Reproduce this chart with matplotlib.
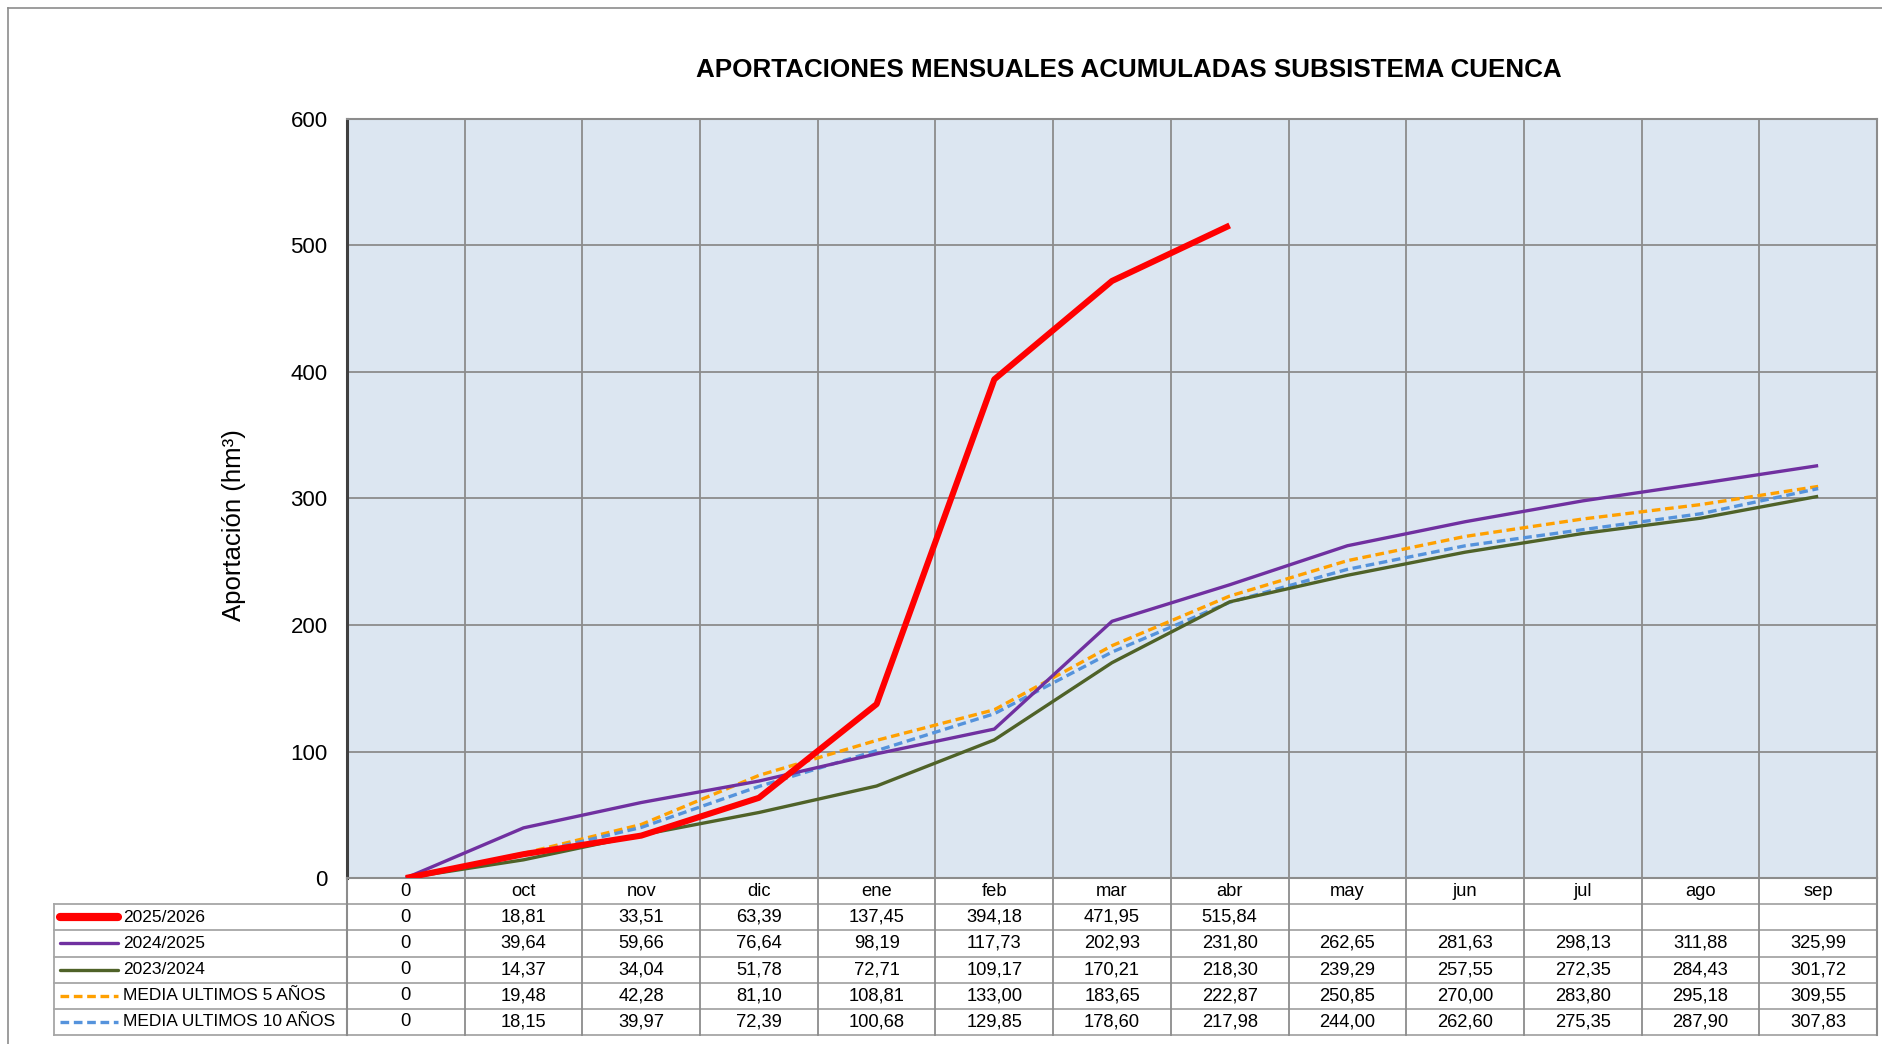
import matplotlib
matplotlib.use('Agg')
import matplotlib.pyplot as plt
import numpy as np
from matplotlib.lines import Line2D

# ---------------- data ----------------
months = ['0', 'oct', 'nov', 'dic', 'ene', 'feb', 'mar', 'abr',
          'may', 'jun', 'jul', 'ago', 'sep']
s_2025_2026 = [0, 18.81, 33.51, 63.39, 137.45, 394.18, 471.95, 515.84,
               np.nan, np.nan, np.nan, np.nan, np.nan]
s_2024_2025 = [0, 39.64, 59.66, 76.64, 98.19, 117.73, 202.93, 231.80,
               262.65, 281.63, 298.13, 311.88, 325.99]
s_2023_2024 = [0, 14.37, 34.04, 51.78, 72.71, 109.17, 170.21, 218.30,
               239.29, 257.55, 272.35, 284.43, 301.72]
media_5 = [0, 19.48, 42.28, 81.10, 108.81, 133.00, 183.65, 222.87,
           250.85, 270.00, 283.80, 295.18, 309.55]
media_10 = [0, 18.15, 39.97, 72.39, 100.68, 129.85, 178.60, 217.98,
            244.00, 262.60, 275.35, 287.90, 307.83]
series_labels = ['2025/2026', '2024/2025', '2023/2024',
                 'MEDIA ULTIMOS 5 AÑOS', 'MEDIA ULTIMOS 10 AÑOS']
yticks = [0, 100, 200, 300, 400, 500, 600]
title = 'APORTACIONES MENSUALES ACUMULADAS SUBSISTEMA CUENCA'
ylabel = 'Aportación (hm³)'

# ---------------- styles ----------------
series = [s_2025_2026, s_2024_2025, s_2023_2024, media_5, media_10]
colors = ['#FF0000', '#7030A0', '#4F6228', '#FFA000', '#5593DC']
widths = [4.4, 2.4, 2.4, 2.4, 2.4]
dashed = [False, False, False, True, True]
zorders = [6, 5, 4, 3, 3.5]

NARROW = ['Liberation Sans Narrow', 'Liberation Sans', 'DejaVu Sans']
REG = ['Liberation Sans', 'DejaVu Sans']

W, H = 1883, 1044
fig = plt.figure(figsize=(W / 100, H / 100), dpi=100)
fig.patch.set_facecolor('white')

def fx(px):
    return px / W

def fy(py):
    return 1 - py / H

PL, PR, PT, PB = 347, 1877, 119, 878
ax = fig.add_axes([fx(PL), fy(PB), fx(PR - PL), (PB - PT) / H])
ax.set_facecolor('#DCE6F1')
n = len(months)
x = np.arange(n)
for s, c, w, d, z in zip(series, colors, widths, dashed, zorders):
    if d:
        ax.plot(x, s, color=c, lw=w, ls=(0, (2.6, 1.4)), dash_capstyle='butt',
                zorder=z, solid_joinstyle='round')
    else:
        ax.plot(x, s, color=c, lw=w, zorder=z, solid_capstyle='butt',
                solid_joinstyle='round')
ax.set_xlim(-0.5, n - 0.5)
ax.set_ylim(yticks[0], yticks[-1])
ax.set_yticks(yticks)
ax.set_yticklabels([str(t) for t in yticks], fontfamily=NARROW, fontsize=16)
ax.set_xticks([])
ax.set_xticks(np.arange(0.5, n - 0.5, 1), minor=True)
ax.tick_params(axis='y', length=0, pad=14)
ax.tick_params(axis='x', which='both', length=0, labelbottom=False)
ax.grid(axis='y', which='major', color='#8C8C8C', lw=1.3)
ax.grid(axis='x', which='minor', color='#8C8C8C', lw=1.3)
ax.set_axisbelow(True)
for k, sp in ax.spines.items():
    sp.set_color('#8C8C8C')
    sp.set_linewidth(1.5)
ax.spines['left'].set_color('#404040')
ax.spines['left'].set_linewidth(2.2)

# ---------------- data table ----------------
TL, TB = 54, 1035
tax = fig.add_axes([fx(TL), fy(TB), fx(PR - TL), (TB - PB) / H])
unit = (PR - PL) / n
leg_w = (PL - TL) / unit
x0 = -0.5 - leg_w
tax.set_xlim(x0, n - 0.5)
tax.set_ylim(6, 0)
tax.axis('off')
gcol = '#A6A6A6'
for r in range(1, 7):
    tax.plot([x0, n - 0.5], [r, r], color=gcol, lw=1.3, clip_on=False)
tax.plot([x0, x0], [1, 6], color=gcol, lw=1.3, clip_on=False)
tax.plot([-0.5, -0.5], [0, 6], color='#8C8C8C', lw=1.5, clip_on=False)
for b in np.arange(0.5, n - 0.5, 1):
    tax.plot([b, b], [0, 6], color='#8C8C8C', lw=1.3, clip_on=False)
tax.plot([n - 0.5, n - 0.5], [0, 6], color='#8C8C8C', lw=1.5, clip_on=False)

fs = 13.2
fs_leg = 12.5
for i, m in enumerate(months):
    tax.text(i, 0.5, m, ha='center', va='center', fontsize=fs,
             fontfamily=NARROW)

def fmt(v):
    if np.isnan(v):
        return ''
    if v == 0:
        return '0'
    return f'{v:.2f}'.replace('.', ',')

sw0 = x0 + 6 / unit
sw1 = x0 + 64 / unit
tx = x0 + 69 / unit
for r, (s, lab, c, w, d) in enumerate(zip(series, series_labels, colors,
                                           widths, dashed)):
    yc = r + 1.5
    if d:
        tax.plot([sw0, sw1], [yc, yc], color=c, lw=2.4, ls=(0, (2.6, 1.4)),
                 dash_capstyle='butt')
    else:
        tax.plot([sw0, sw1], [yc, yc], color=c, lw=w + (1.5 if w > 3 else 0),
                 solid_capstyle='round')
    tax.text(tx, yc, lab, ha='left', va='center', fontsize=fs_leg,
             fontfamily=NARROW)
    for i, v in enumerate(s):
        tax.text(i, yc, fmt(v), ha='center', va='center', fontsize=fs,
                 fontfamily=NARROW)

# ---------------- titles ----------------
fig.text(fx(1129), fy(70), title, ha='center', va='center', fontsize=18.7,
         fontweight='bold', fontfamily=REG)
fig.text(fx(234), fy(525), ylabel, ha='center', va='center', rotation=90,
         fontsize=18.5, fontfamily=REG)

# figure border
fig.add_artist(Line2D([fx(8), fx(8)], [0, fy(8)], color='#8C8C8C', lw=1.2))
fig.add_artist(Line2D([fx(8), 1], [fy(8), fy(8)], color='#8C8C8C', lw=1.2))

fig.savefig('out.png', dpi=100, facecolor='white')
